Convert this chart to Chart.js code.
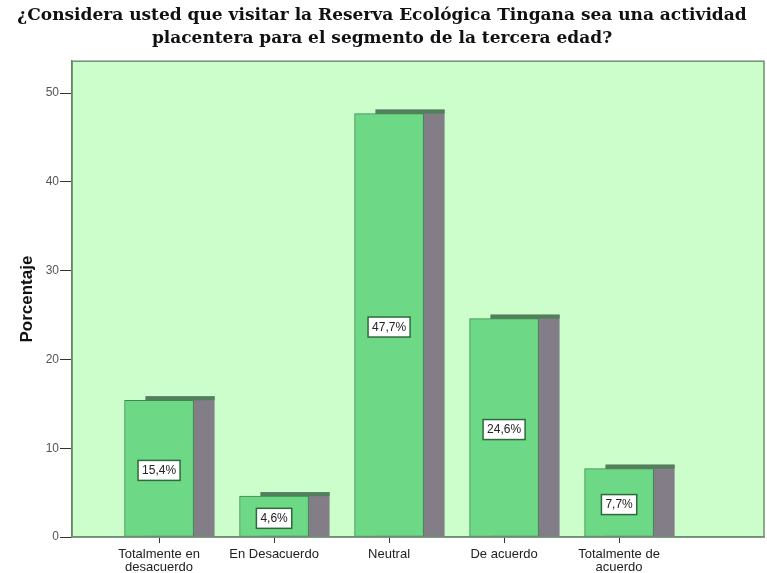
<!DOCTYPE html>
<html>
<head>
<meta charset="utf-8">
<script src="https://cdn.jsdelivr.net/npm/chart.js@4/dist/chart.umd.min.js"></script>
<style>
  html, body { margin: 0; padding: 0; background: #ffffff; }
  #wrap { width: 767px; height: 573px; }
</style>
</head>
<body>
<div id="wrap"><canvas id="c" width="767" height="573"></canvas></div>
<script>
// Survey answers and their share of respondents (%)
const categories = [
  ['Totalmente en', 'desacuerdo'],
  ['En Desacuerdo'],
  ['Neutral'],
  ['De acuerdo'],
  ['Totalmente de', 'acuerdo']
];
const percentages = [15.4, 4.6, 47.7, 24.6, 7.7];
const yTicks = [0, 10, 20, 30, 40, 50];

const titleLines = [
  '¿Considera usted que visitar la Reserva Ecológica Tingana sea una actividad',
  'placentera para el segmento de la tercera edad?'
];

// Light green plotting panel with a thin frame
const panelPlugin = {
  id: 'panel',
  beforeDraw(chart) {
    const { ctx, chartArea: a } = chart;
    ctx.save();
    ctx.fillStyle = '#ccfecb';
    ctx.fillRect(a.left, a.top, a.right - a.left, a.bottom - a.top);
    ctx.restore();
  },
  afterDraw(chart) {
    const { ctx, chartArea: a } = chart;
    ctx.save();
    ctx.strokeStyle = '#6f8f72';
    ctx.lineWidth = 1.5;
    ctx.strokeRect(a.left, a.top, a.right - a.left, a.bottom - a.top);
    ctx.restore();
  }
};

// Grey block behind every bar, giving a drop-shadow look
const shadowPlugin = {
  id: 'barShadow',
  beforeDatasetsDraw(chart) {
    const { ctx } = chart;
    const meta = chart.getDatasetMeta(0);
    ctx.save();
    meta.data.forEach(bar => {
      const p = bar.getProps(['x', 'y', 'base', 'width'], true);
      const left = p.x - p.width / 2 + 21;
      const top = p.y - 4;
      ctx.fillStyle = '#827d86';
      ctx.fillRect(left, top, p.width, p.base - top);
      ctx.fillStyle = '#52805a';
      ctx.fillRect(left, top, p.width, 4);
    });
    ctx.restore();
  }
};

// Value boxes in the middle of each bar
const labelPlugin = {
  id: 'valueBoxes',
  afterDatasetsDraw(chart) {
    const { ctx } = chart;
    const meta = chart.getDatasetMeta(0);
    const values = chart.data.datasets[0].data;
    ctx.save();
    ctx.font = '12px "Liberation Sans", Arial, sans-serif';
    ctx.textAlign = 'center';
    ctx.textBaseline = 'middle';
    meta.data.forEach((bar, i) => {
      const p = bar.getProps(['x', 'y', 'base'], true);
      const txt = values[i].y.toFixed(1).replace('.', ',') + '%';
      const cy = (p.y + p.base) / 2 + 2;
      const w = ctx.measureText(txt).width + 8;
      const h = 20;
      ctx.fillStyle = '#ffffff';
      ctx.fillRect(p.x - w / 2, cy - h / 2, w, h);
      ctx.strokeStyle = '#2f6a3a';
      ctx.lineWidth = 1.5;
      ctx.strokeRect(p.x - w / 2, cy - h / 2, w, h);
      ctx.fillStyle = '#222222';
      ctx.fillText(txt, p.x, cy + 0.5);
    });
    ctx.restore();
  }
};

new Chart(document.getElementById('c'), {
  type: 'bar',
  data: {
    datasets: [{
      data: percentages.map((v, i) => ({ x: i, y: v })),
      backgroundColor: '#6dd886',
      borderColor: '#3d8a4e',
      borderWidth: 1,
      borderSkipped: false,
      barThickness: 69
    }]
  },
  options: {
    responsive: false,
    animation: false,
    layout: { padding: { top: 0, right: 3, bottom: 0, left: 0 } },
    plugins: {
      legend: { display: false },
      tooltip: { enabled: false },
      title: {
        display: true,
        text: titleLines,
        color: '#111111',
        font: { family: '"DejaVu Serif", serif', size: 17, weight: 'bold', lineHeight: 1.3 },
        padding: { top: 5, bottom: 12 }
      }
    },
    scales: {
      x: {
        type: 'linear',
        offset: false,
        min: -0.757,
        max: 5.26,
        afterBuildTicks: s => { s.ticks = categories.map((c, i) => ({ value: i })); },
        afterFit: s => { s.height = 36; },
        ticks: {
          callback: (v) => categories[v],
          color: '#222222',
          font: { family: '"Liberation Sans", Arial, sans-serif', size: 13, lineHeight: 1.0 },
          padding: 5,
          maxRotation: 0,
          autoSkip: false
        },
        grid: { offset: false, drawOnChartArea: false, tickLength: 6, color: '#333333' },
        border: { display: true, color: '#6f8f72', width: 1.5 }
      },
      y: {
        min: 0,
        max: 53.6,
        afterBuildTicks: s => { s.ticks = yTicks.map(v => ({ value: v })); },
        afterFit: s => { s.width = 72; },
        ticks: {
          color: '#555555',
          font: { family: '"Liberation Sans", Arial, sans-serif', size: 12 },
          padding: 1
        },
        grid: { drawOnChartArea: false, tickLength: 12, color: '#333333' },
        border: { display: true, color: '#4f6f52', width: 1.5 },
        title: {
          display: true,
          text: 'Porcentaje',
          color: '#111111',
          font: { family: '"Liberation Sans", Arial, sans-serif', size: 17, weight: 'bold' },
          padding: { top: 17, bottom: 0 }
        }
      }
    }
  },
  plugins: [panelPlugin, shadowPlugin, labelPlugin]
});
</script>
</body>
</html>
